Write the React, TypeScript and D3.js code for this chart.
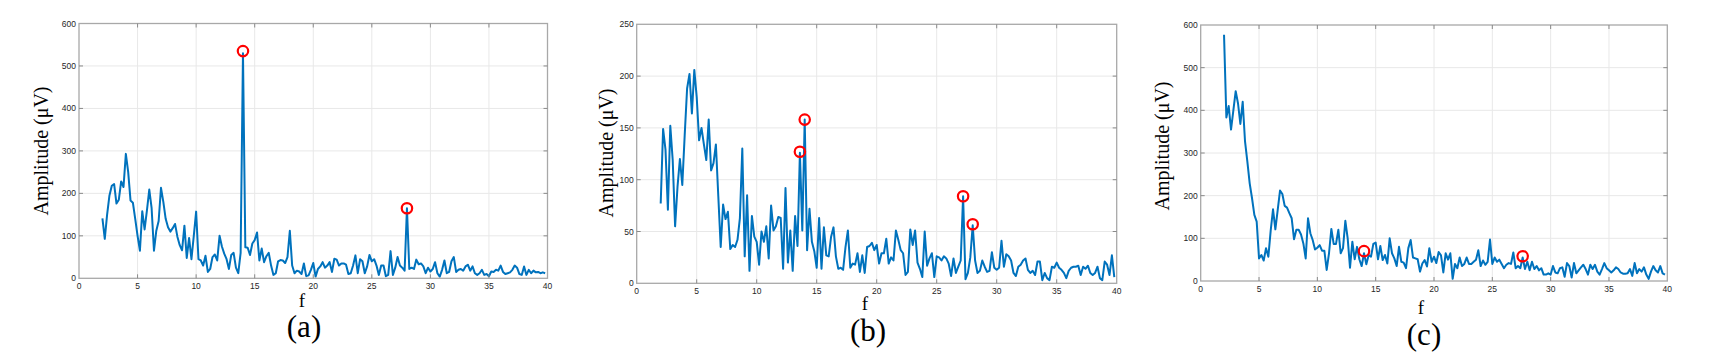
import React, { useEffect, useRef } from 'react';
import * as d3 from 'd3';

// spectra sampled from 2 Hz in 0.2 Hz bins
const F_START = 2;
const F_STEP = 0.2;

const ampA = [
  141, 93, 150, 195, 218, 222, 176, 185, 228, 215,
  293, 250, 183, 178, 140, 100, 65, 158, 115, 160,
  209, 165, 65, 112, 135, 213, 180, 140, 120, 110,
  118, 128, 98, 78, 66, 124, 48, 95, 45, 100,
  157, 45, 42, 30, 53, 15, 22, 50, 56, 42,
  100, 75, 58, 45, 22, 55, 60, 25, 12, 60,
  530, 73, 72, 55, 82, 90, 108, 42, 70, 38,
  52, 60, 30, 8, 12, 40, 43, 42, 36, 50,
  112, 30, 12, 18, 16, 10, 35, 5, 7, 20,
  36, 4, 22, 28, 38, 25, 30, 38, 15, 46,
  44, 30, 35, 35, 32, 10, 12, 30, 54, 12,
  45, 40, 12, 28, 55, 40, 45, 30, 8, 30,
  30, 5, 8, 64, 8, 25, 50, 30, 25, 18,
  165, 22, 25, 22, 44, 33, 35, 28, 12, 25,
  16, 22, 38, 12, 4, 20, 42, 12, 15, 40,
  50, 15, 20, 22, 18, 28, 32, 18, 28, 12,
  8, 12, 20, 8, 10, 5, 16, 15, 20, 18,
  30, 15, 10, 12, 14, 20, 30, 25, 10, 8,
  28, 8, 20, 12, 18, 14, 15, 12, 14, 12,
];

const ampB = [
  77, 149, 129, 71, 152, 119, 55, 93, 120, 95,
  143, 188, 202, 164, 206, 180, 138, 150, 134, 119,
  158, 109, 116, 134, 84, 35, 76, 62, 69, 33,
  37, 35, 42, 63, 130, 26, 85, 12, 65, 45,
  40, 18, 50, 40, 55, 24, 75, 51, 55, 64,
  63, 14, 92, 20, 51, 12, 65, 36, 126, 51,
  158, 32, 72, 40, 31, 15, 63, 14, 54, 27,
  26, 45, 54, 26, 14, 15, 13, 35, 51, 15,
  19, 18, 29, 11, 27, 10, 35, 36, 39, 32,
  37, 19, 29, 29, 43, 19, 25, 22, 51, 42,
  32, 29, 8, 11, 52, 37, 51, 20, 14, 6,
  50, 17, 24, 29, 6, 26, 25, 22, 26, 24,
  19, 7, 24, 10, 16, 22, 84, 4, 10, 25,
  56, 22, 10, 12, 22, 16, 11, 12, 30, 15,
  13, 15, 41, 16, 28, 26, 22, 10, 7, 16,
  18, 22, 24, 13, 10, 12, 8, 21, 21, 3,
  10, 5, 3, 16, 15, 20, 15, 13, 10, 5,
  12, 15, 16, 16, 17, 8, 16, 14, 17, 10,
  8, 10, 16, 5, 3, 21, 18, 8, 27, 6,
];

const ampC = [
  577, 383, 410, 355, 400, 445, 416, 368, 420, 327,
  280, 229, 194, 155, 139, 53, 61, 48, 77, 57,
  118, 168, 121, 166, 212, 204, 176, 172, 159, 147,
  98, 120, 120, 109, 88, 53, 147, 112, 96, 74,
  78, 84, 71, 71, 26, 65, 122, 87, 87, 120,
  65, 77, 141, 100, 31, 92, 51, 80, 51, 35,
  65, 39, 61, 57, 87, 90, 51, 82, 49, 61,
  41, 100, 65, 53, 35, 80, 45, 43, 30, 77,
  96, 55, 53, 51, 22, 41, 49, 34, 77, 45,
  57, 42, 68, 60, 20, 65, 50, 65, 5, 40,
  30, 55, 35, 40, 55, 40, 40, 45, 50, 72,
  35, 48, 38, 45, 97, 40, 55, 45, 50, 40,
  30, 38, 42, 40, 67, 30, 35, 30, 55, 28,
  45, 25, 45, 28, 35, 25, 30, 15, 15, 18,
  15, 35, 20, 18, 30, 32, 10, 42, 35, 8,
  42, 18, 25, 32, 38, 28, 15, 38, 28, 38,
  22, 15, 28, 42, 30, 25, 20, 25, 32, 28,
  20, 17, 17, 18, 28, 12, 42, 18, 28, 22,
  32, 15, 5, 22, 35, 25, 20, 35, 18, 15,
];

// red circle markers (f, amplitude)
const peaksA = [{ f: 14, v: 535 }, { f: 28, v: 165 }];
const peaksB = [{ f: 13.6, v: 127 }, { f: 14, v: 158 }, { f: 27.2, v: 84 }, { f: 28, v: 57 }];
const peaksC = [{ f: 14, v: 70 }, { f: 27.6, v: 58 }];

const xTicks = [0, 5, 10, 15, 20, 25, 30, 35, 40];
const yTicksA = [0, 100, 200, 300, 400, 500, 600];
const yTicksB = [0, 50, 100, 150, 200, 250];
const yTicksC = [0, 100, 200, 300, 400, 500, 600];

const yLabel = 'Amplitude (\u03BCV)';
const xLabel = 'f';
const captions = ['(a)', '(b)', '(c)'];

const series = [ampA, ampB, ampC];
const peaks = [peaksA, peaksB, peaksC];
const yTicks = [yTicksA, yTicksB, yTicksC];

// frame geometry of each subplot
const frames = [
  { left: 79, right: 547.5, top: 23.5, bottom: 278.3, ylx: 48, yly: 151, fx: 302, fy: 307, cx: 304, cy: 337 },
  { left: 636.7, right: 1116.7, top: 24.3, bottom: 283.3, ylx: 613, yly: 153, fx: 865, fy: 310, cx: 868, cy: 341 },
  { left: 1200.7, right: 1667.3, top: 25, bottom: 281, ylx: 1169, yly: 146, fx: 1421, fy: 314, cx: 1424, cy: 345 },
];

const App = () => {
  const svgRef = useRef(null);

  useEffect(() => {
    if (!svgRef.current) return;
    const svg = d3.select(svgRef.current);
    svg.selectAll('*').remove();

    const serif = '"Liberation Serif", "Times New Roman", serif';
    const sans = '"Liberation Sans", Arial, Helvetica, sans-serif';

    frames.forEach((fr, k) => {
      const amps = series[k];
      const ticksY = yTicks[k];
      const data = amps.map((v, i) => ({ f: F_START + i * F_STEP, v }));

      const x = d3.scaleLinear().domain([0, 40]).range([fr.left, fr.right]);
      const y = d3
        .scaleLinear()
        .domain([0, ticksY[ticksY.length - 1]])
        .range([fr.bottom, fr.top]);

      const g = svg.append('g');

      // grid
      g.selectAll('line.gx')
        .data(xTicks.slice(1, -1))
        .enter()
        .append('line')
        .attr('x1', (d) => x(d))
        .attr('x2', (d) => x(d))
        .attr('y1', fr.top)
        .attr('y2', fr.bottom)
        .attr('stroke', '#e8e8e8')
        .attr('stroke-width', 1);

      g.selectAll('line.gy')
        .data(ticksY.slice(1, -1))
        .enter()
        .append('line')
        .attr('x1', fr.left)
        .attr('x2', fr.right)
        .attr('y1', (d) => y(d))
        .attr('y2', (d) => y(d))
        .attr('stroke', '#e8e8e8')
        .attr('stroke-width', 1);

      // spectrum line
      const line = d3
        .line<{ f: number; v: number }>()
        .x((d) => x(d.f))
        .y((d) => y(d.v));

      g.append('path')
        .datum(data)
        .attr('d', line)
        .attr('fill', 'none')
        .attr('stroke', '#0072BD')
        .attr('stroke-width', 2)
        .attr('stroke-linejoin', 'round');

      // box
      g.append('rect')
        .attr('x', fr.left)
        .attr('y', fr.top)
        .attr('width', fr.right - fr.left)
        .attr('height', fr.bottom - fr.top)
        .attr('fill', 'none')
        .attr('stroke', '#a8a8a8')
        .attr('stroke-width', 1.3);

      // inward ticks on all four sides
      const tl = 4;
      xTicks.slice(1, -1).forEach((t) => {
        g.append('line')
          .attr('x1', x(t)).attr('x2', x(t))
          .attr('y1', fr.bottom).attr('y2', fr.bottom - tl)
          .attr('stroke', '#8a8a8a');
        g.append('line')
          .attr('x1', x(t)).attr('x2', x(t))
          .attr('y1', fr.top).attr('y2', fr.top + tl)
          .attr('stroke', '#8a8a8a');
      });
      ticksY.slice(1, -1).forEach((t) => {
        g.append('line')
          .attr('x1', fr.left).attr('x2', fr.left + tl)
          .attr('y1', y(t)).attr('y2', y(t))
          .attr('stroke', '#8a8a8a');
        g.append('line')
          .attr('x1', fr.right).attr('x2', fr.right - tl)
          .attr('y1', y(t)).attr('y2', y(t))
          .attr('stroke', '#8a8a8a');
      });

      // tick labels
      g.selectAll('text.xt')
        .data(xTicks)
        .enter()
        .append('text')
        .attr('x', (d) => x(d))
        .attr('y', fr.bottom + 11)
        .attr('text-anchor', 'middle')
        .attr('font-family', sans)
        .attr('font-size', 8.5)
        .attr('fill', '#262626')
        .text((d) => d);

      g.selectAll('text.yt')
        .data(ticksY)
        .enter()
        .append('text')
        .attr('x', fr.left - 3)
        .attr('y', (d) => y(d) + 3)
        .attr('text-anchor', 'end')
        .attr('font-family', sans)
        .attr('font-size', 8.5)
        .attr('fill', '#262626')
        .text((d) => d);

      // peak markers
      g.selectAll('circle.pk')
        .data(peaks[k])
        .enter()
        .append('circle')
        .attr('cx', (d) => x(d.f))
        .attr('cy', (d) => y(d.v))
        .attr('r', 5.2)
        .attr('fill', 'none')
        .attr('stroke', '#ff0000')
        .attr('stroke-width', 2.2);

      // axis labels
      g.append('text')
        .attr('transform', `translate(${fr.ylx},${fr.yly}) rotate(-90)`)
        .attr('text-anchor', 'middle')
        .attr('font-family', serif)
        .attr('font-size', 20)
        .attr('fill', '#000')
        .text(yLabel);

      g.append('text')
        .attr('x', fr.fx)
        .attr('y', fr.fy)
        .attr('text-anchor', 'middle')
        .attr('font-family', serif)
        .attr('font-size', 19)
        .attr('fill', '#000')
        .text(xLabel);

      g.append('text')
        .attr('x', fr.cx)
        .attr('y', fr.cy)
        .attr('text-anchor', 'middle')
        .attr('font-family', serif)
        .attr('font-size', 31)
        .attr('fill', '#000')
        .text(captions[k]);
    });
  }, []);

  return (
    <svg
      ref={svgRef}
      width={1725}
      height={354}
      style={{ position: 'absolute', left: 0, top: 0, background: '#fff' }}
    />
  );
};

export default App;
